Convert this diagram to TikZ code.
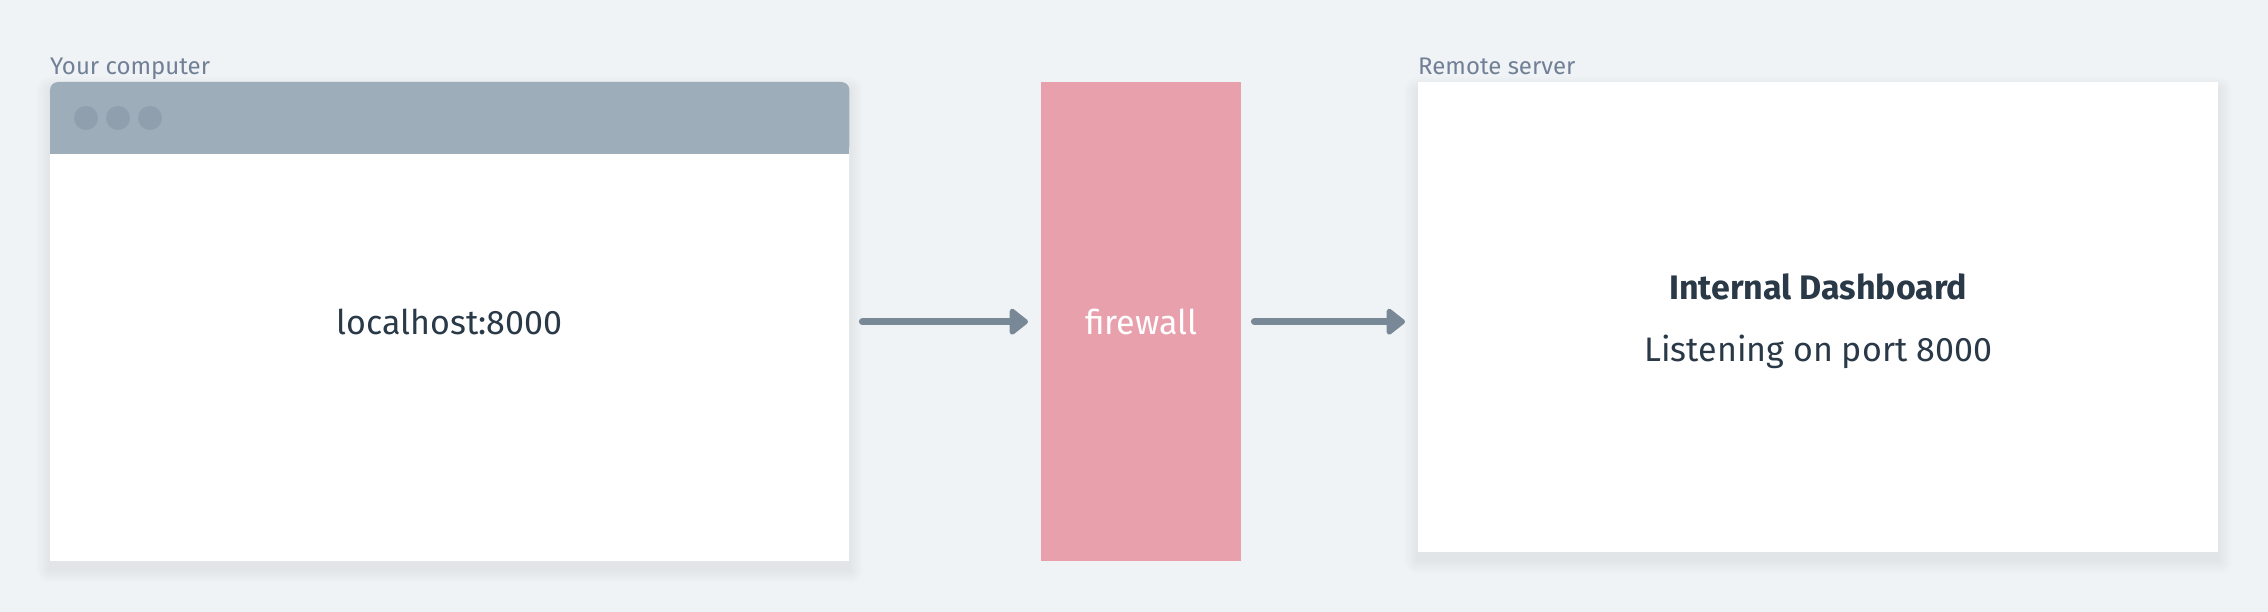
\documentclass[tikz,border=0pt]{standalone}
\usepackage{fontspec}
\setmainfont{Fira Sans}
\usetikzlibrary{positioning, arrows.meta, backgrounds}
\definecolor{pagebg}{HTML}{EFF3F6}
\definecolor{titlegrey}{HTML}{9EADBA}
\definecolor{dotgrey}{HTML}{8F9FAD}
\definecolor{labelgrey}{HTML}{718096}
\definecolor{arrowgrey}{HTML}{798897}
\definecolor{wallpink}{HTML}{E8A1AC}
\definecolor{inkdark}{HTML}{2A3947}
\newcommand{\softshadow}[1]{\foreach \k in {1,...,14}{
        \fill[black, opacity=0.0045, rounded corners=\k pt] ([xshift=-\k pt, yshift=\k pt-8pt]#1.north west)
            rectangle ([xshift=\k pt, yshift=-\k pt-8pt]#1.south east);}}
\tikzset{panel/.style={fill=white, inner sep=0pt, anchor=north west}}
\tikzset{tag/.style={font=\fontsize{24}{28}\selectfont, text=labelgrey, inner sep=0pt, anchor=base west}}
\tikzset{flow/.style={draw=arrowgrey, line width=7pt, line cap=round,
            -{Triangle[length=20pt, width=30pt, round]}, shorten <=13pt, shorten >=13pt}}

\begin{document}
\begin{tikzpicture}[x=1pt, y=-1pt, font=\fontsize{34}{40}\selectfont, text=inkdark]

    \useasboundingbox (0,0) rectangle (2268,612);

    % browser window
    \node(browser)[panel, rounded corners=8pt, minimum width=799pt, minimum height=479pt] at (50,82){};
    \fill[white] ([yshift=20pt]browser.south west) rectangle (browser.south east);
    \fill[titlegrey, rounded corners=8pt] (browser.north west) rectangle ([yshift=-72pt]browser.north east);
    \fill[titlegrey] ([yshift=-30pt]browser.north west) rectangle ([yshift=-72pt]browser.north east);
    \foreach \i in {0,1,2}
        \fill[dotgrey] (86+32*\i,118) circle[radius=12pt];
    \node(local) at (browser.center){localhost:8000};
    \node(mine)[tag] at (50,75){Your computer};

    % firewall
    \node(firewall)[fill=wallpink, inner sep=0pt, anchor=north west, minimum width=200pt, minimum height=479pt,
        text=white] at (1041,82){firewall};

    % remote server
    \node(server)[panel, minimum width=800pt, minimum height=470pt] at (1418,82){};
    \node(dash)[align=center, yshift=-4pt] at (server.center)
        {\textbf{Internal Dashboard}\\[22pt]Listening on port 8000};
    \node(remote)[tag] at (1418,75){Remote server};

    \draw[flow] (browser.east) -- (firewall.west);
    \draw[flow] (firewall.east) -- (firewall.east -| server.west);

    % page and shadows
    \begin{scope}[on background layer]
        \fill[pagebg] (0,0) rectangle (2268,612);
        \softshadow{browser}
        \softshadow{server}
    \end{scope}

\end{tikzpicture}
\end{document}
